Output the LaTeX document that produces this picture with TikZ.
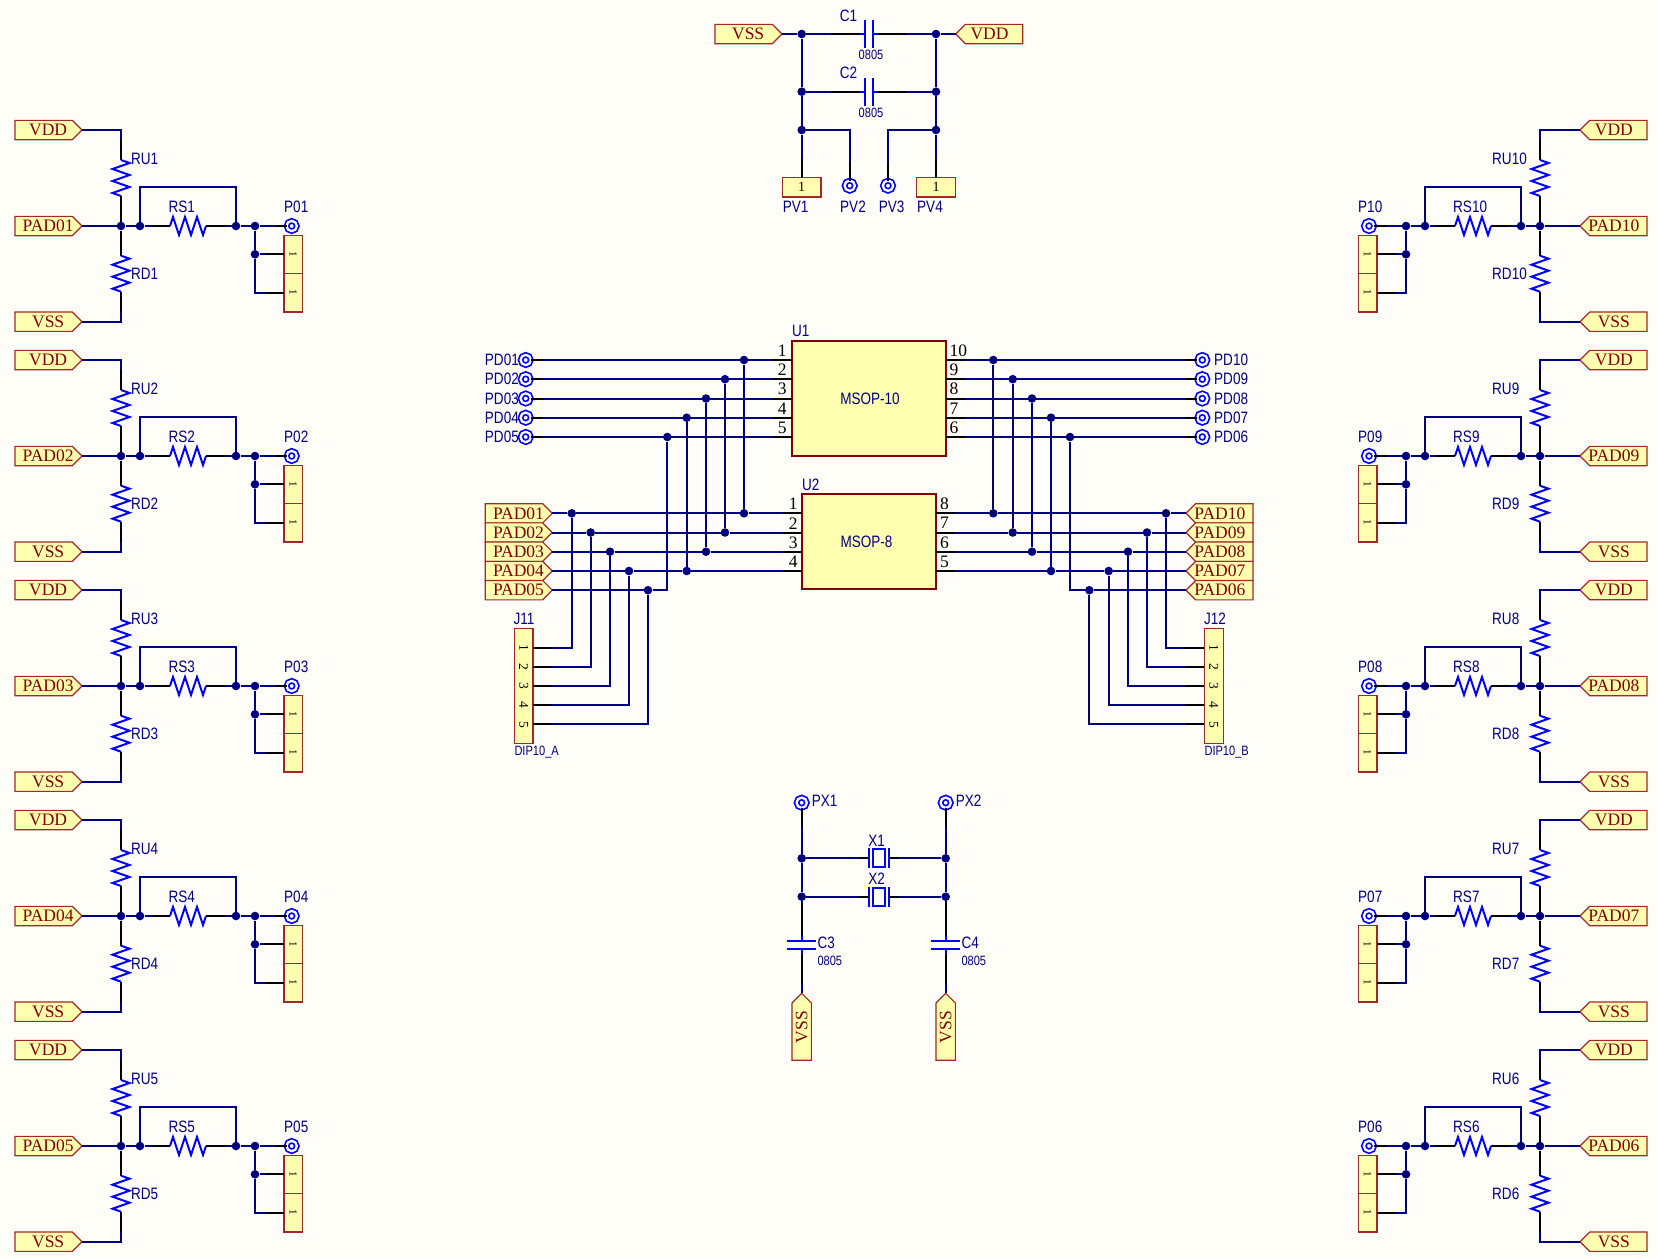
\documentclass[tikz,border=0pt]{standalone}
\usepackage{fontspec}
\setmainfont{Liberation Serif}
\newfontfamily\lblfont[FakeStretch=0.82]{Liberation Sans}
\usetikzlibrary{shapes.symbols}
\definecolor{paper}{HTML}{FFFDF8}
\definecolor{netnavy}{HTML}{000080}
\definecolor{partblue}{HTML}{0000FF}
\definecolor{bodyfill}{HTML}{FFFFB0}
\definecolor{bodyred}{HTML}{800000}
\definecolor{portline}{HTML}{A02828}
\tikzset{
  wire/.style={draw=netnavy, line width=2pt},
  pinline/.style={draw=black, line width=2pt},
  res/.style={draw=partblue, line width=2pt},
  junc/.style={circle, fill=netnavy, inner sep=0pt, minimum size=8.6pt},
  pad/.style={circle, draw=partblue, line width=1.7pt, double=paper, double distance=2.3pt, minimum size=10.3pt, inner sep=0pt, outer sep=0pt},
  port/.style={signal, draw=portline, fill=bodyfill, line width=1.2pt, minimum width=67pt, minimum height=19.3pt,
    inner sep=0pt, outer sep=0pt, text=bodyred, font=\fontsize{17.5}{17.5}\selectfont},
  portr/.style={port, signal to=east, anchor=east, execute at begin node={\hspace{4.5pt}}, execute at end node={\hspace{-4.5pt}}},
  portl/.style={port, signal to=west, anchor=west, execute at begin node={\hspace{-4.5pt}}, execute at end node={\hspace{4.5pt}}},
  part/.style={draw=bodyred, fill=bodyfill, line width=2.2pt, inner sep=0pt, outer sep=0pt},
  conn/.style={draw=portline, fill=bodyfill, line width=1.2pt, minimum width=18.7pt, inner sep=0pt, outer sep=0pt, font=\fontsize{11}{11}\selectfont},
  lbl/.style={inner sep=0pt, text=netnavy, font=\lblfont\fontsize{16.5}{16.5}\selectfont},
  tiny/.style={inner sep=0pt, text=netnavy, font=\lblfont\fontsize{13.5}{13.5}\selectfont},
  pinnum/.style={inner sep=0pt, font=\fontsize{17.5}{17.5}\selectfont},
  connum/.style={inner sep=0pt, font=\fontsize{13.5}{13.5}\selectfont},
  resv/.pic={\draw[res] (0,0) -- (8.5,3) -- (-8.5,9) -- (8.5,15) -- (-8.5,21) -- (8.5,27) -- (-8.5,33) -- (0,36);},
  resh/.pic={\draw[res] (0,0) -- (3,-9) -- (9,9) -- (15,-9) -- (21,9) -- (27,-9) -- (33,9) -- (36,0);},
  caph/.pic={\draw[res] (-4,-14) -- (-4,14) (4,-14) -- (4,14) (-9,0) -- (-4,0) (4,0) -- (9,0);},
  capv/.pic={\draw[res] (-14.3,-4) -- (14.3,-4) (-14.3,4) -- (14.3,4) (0,-9) -- (0,-4) (0,4) -- (0,9);},
  xtal/.pic={\draw[res] (-10,-10) -- (-10,10) (10,-10) -- (10,10) (-6,-9) rectangle (6,9);}
}
\begin{document}
\begin{tikzpicture}[x=1pt, y=-1pt]
    \fill[paper] (0,0) rectangle (1657,1258);

    % left column
    \foreach \n/\m/\off in {1/01/0, 2/02/230, 3/03/460, 4/04/690, 5/05/920} {
    \begin{scope}[shift={(0,\off)}]
        \node[portr] (VDD\n) at (82,130) {VDD};
        \node[portr] (PAD\m) at (82,226) {PAD\m};
        \node[portr] (VSS\n) at (82,321.7) {VSS};
        \node[junc] (JA\n) at (121,226) {};
        \node[junc] (JB\n) at (140,226) {};
        \node[junc] (JC\n) at (236,226) {};
        \node[junc] (JD\n) at (255,226) {};
        \node[junc] (JE\n) at (255,254.3) {};
        \node[pad] (P\m) at (291.7,226) {};
        \node[conn, minimum height=38.4pt] (Q\n a) at (293.3,254.3) {\rotatebox{-90}{1}};
        \node[conn, minimum height=38.4pt] (Q\n b) at (293.3,292.7) {\rotatebox{-90}{1}};
        \coordinate (RU\n a) at (121,160);
        \coordinate (RU\n b) at (121,196);
        \coordinate (RD\n a) at (121,255.7);
        \coordinate (RD\n b) at (121,291.7);
        \coordinate (RS\n a) at (170,226);
        \coordinate (RS\n b) at (206,226);
        \pic at (RU\n a) {resv};
        \pic at (RD\n a) {resv};
        \pic at (RS\n a) {resh};
        \node[lbl, anchor=west] (TU\n) at (131,159) {RU\n};
        \node[lbl, anchor=west] (TD\n) at (131,274) {RD\n};
        \node[lbl, anchor=west] (TS\n) at (168.5,207) {RS\n};
        \node[lbl, anchor=west] (TP\n) at (284,207) {P\m};

        \draw[wire] (VDD\n.east) -| (RU\n a);
        \draw[wire] (VSS\n.east) -| (RD\n b);
        \draw[wire] (PAD\m.east) -- (JA\n) -- (JB\n) -- (RS\n a);
        \draw[wire] (JB\n) -- ++(0,-39) -| (JC\n);
        \draw[wire] (RS\n b) -- (JC\n) -- (JD\n) -- (P\m);
        \draw[wire] (JD\n) -- (JE\n);
        \draw[wire] (JE\n) |- (Q\n b.west);
        \draw[wire] (JE\n) -- (Q\n a.west);
        \draw[pinline] (RU\n a) -- ++(0,-20.5);
        \draw[pinline] (RU\n b) -- (JA\n);
        \draw[pinline] (RD\n a) -- (JA\n);
        \draw[pinline] (RD\n b) -- ++(0,20);
        \draw[pinline] (RS\n a) -- ++(-19.2,0);
        \draw[pinline] (RS\n b) -- ++(19.2,0);
        \draw[pinline] (P\m.west) -- ++(-12,0);
        \draw[pinline] (Q\n a.west) -- ++(-19,0);
        \draw[pinline] (Q\n b.west) -- ++(-19,0);
    \end{scope}
    }

    % right column
    \foreach \n/\m/\off in {10/10/0, 9/09/230, 8/08/460, 7/07/690, 6/06/920} {
    \begin{scope}[shift={(0,\off)}]
        \node[portl] (VDD\n) at (1580,130) {VDD};
        \node[portl] (PAD\m) at (1580,226) {PAD\m};
        \node[portl] (VSS\n) at (1580,321.7) {VSS};
        \node[junc] (JA\n) at (1540,226) {};
        \node[junc] (JB\n) at (1521,226) {};
        \node[junc] (JC\n) at (1425,226) {};
        \node[junc] (JD\n) at (1406,226) {};
        \node[junc] (JE\n) at (1406,254.3) {};
        \node[pad] (P\m) at (1369,226) {};
        \node[conn, minimum height=38.4pt] (Q\n a) at (1367.6,254.3) {\rotatebox{-90}{1}};
        \node[conn, minimum height=38.4pt] (Q\n b) at (1367.6,292.7) {\rotatebox{-90}{1}};
        \coordinate (RU\n a) at (1540,160);
        \coordinate (RU\n b) at (1540,196);
        \coordinate (RD\n a) at (1540,255.7);
        \coordinate (RD\n b) at (1540,291.7);
        \coordinate (RS\n a) at (1455,226);
        \coordinate (RS\n b) at (1491,226);
        \pic at (RU\n a) {resv};
        \pic at (RD\n a) {resv};
        \pic at (RS\n a) {resh};
        \node[lbl, anchor=west] (TU\n) at (1492,159) {RU\n};
        \node[lbl, anchor=west] (TD\n) at (1492,274) {RD\n};
        \node[lbl, anchor=west] (TS\n) at (1453,207) {RS\n};
        \node[lbl, anchor=west] (TP\n) at (1358,207) {P\m};

        \draw[wire] (VDD\n.west) -| (RU\n a);
        \draw[wire] (VSS\n.west) -| (RD\n b);
        \draw[wire] (PAD\m.west) -- (JA\n) -- (JB\n) -- (RS\n b);
        \draw[wire] (JB\n) -- ++(0,-39) -| (JC\n);
        \draw[wire] (RS\n a) -- (JC\n) -- (JD\n) -- (P\m);
        \draw[wire] (JD\n) -- (JE\n);
        \draw[wire] (JE\n) |- (Q\n b.east);
        \draw[wire] (JE\n) -- (Q\n a.east);
        \draw[pinline] (RU\n a) -- ++(0,-20.5);
        \draw[pinline] (RU\n b) -- (JA\n);
        \draw[pinline] (RD\n a) -- (JA\n);
        \draw[pinline] (RD\n b) -- ++(0,20);
        \draw[pinline] (RS\n a) -- ++(-19.2,0);
        \draw[pinline] (RS\n b) -- ++(19.2,0);
        \draw[pinline] (P\m.east) -- ++(12,0);
        \draw[pinline] (Q\n a.east) -- ++(19,0);
        \draw[pinline] (Q\n b.east) -- ++(19,0);
    \end{scope}
    }

    % supply caps on top
    \node[portr] (VSSt) at (782,34) {VSS};
    \node[portl] (VDDt) at (955.7,34) {VDD};
    \node[junc] (TA1) at (801.7,34) {};
    \node[junc] (TA2) at (801.7,91.7) {};
    \node[junc] (TA3) at (801.7,130) {};
    \node[junc] (TB1) at (936,34) {};
    \node[junc] (TB2) at (936,91.7) {};
    \node[junc] (TB3) at (936,130) {};
    \node[conn, font=\fontsize{14}{14}\selectfont, minimum width=38.7pt, minimum height=19.3pt] (PV1) at (801.7,187.3) {1};
    \node[conn, font=\fontsize{14}{14}\selectfont, minimum width=38.7pt, minimum height=19.3pt] (PV4) at (936,187.3) {1};
    \node[pad] (PV2) at (849.7,185.7) {};
    \node[pad] (PV3) at (888,185.7) {};
    \node[lbl] (PV1t) at (795.7,207) {PV1};
    \node[lbl] (PV2t) at (853,207) {PV2};
    \node[lbl] (PV3t) at (891.7,207) {PV3};
    \node[lbl] (PV4t) at (930,207) {PV4};
    \foreach \c/\y in {1/34, 2/91.7} {
        \coordinate (C\c a) at (860,\y);
        \coordinate (C\c b) at (878,\y);
        \pic at (869,\y) {caph};
        \node[lbl] (C\c t) at (848.5,\y-18.5) {C\c};
        \node[tiny] (C\c v) at (871,\y+21) {0805};
        \draw[wire] (TA\c) -- (C\c a);
        \draw[wire] (C\c b) -- (TB\c);
        \draw[pinline] (C\c a) -- ++(-29,0);
        \draw[pinline] (C\c b) -- ++(29,0);
    }
    \draw[wire] (VSSt.east) -- (TA1) -- (TA2) -- (TA3) -- (PV1.north);
    \draw[wire] (VDDt.west) -- (TB1) -- (TB2) -- (TB3) -- (PV4.north);
    \draw[wire] (TA3) -| (PV2);
    \draw[wire] (TB3) -| (PV3);
    \draw[pinline] (PV1.north) -- ++(0,-19);
    \draw[pinline] (PV4.north) -- ++(0,-19);
    \draw[pinline] (PV2.north) -- ++(0,-19);
    \draw[pinline] (PV3.north) -- ++(0,-19);

    % U1 and U2
    \node[part, minimum width=153.7pt, minimum height=115pt] (U1) at (869.2,398.5) {};
    \node[part, minimum width=134.3pt, minimum height=95pt] (U2) at (868.9,541.8) {};
    \node[lbl, anchor=west] (U1t) at (792,331) {U1};
    \node[lbl, anchor=west] (U2t) at (802,485) {U2};
    \node[lbl] (U1v) at (870,399) {MSOP-10};
    \node[lbl] (U2v) at (866.5,542) {MSOP-8};
    \node[conn, minimum height=115pt] (J11) at (523.7,685.8) {};
    \node[conn, minimum height=115pt] (J12) at (1213.8,685.8) {};
    \node[lbl] (J11t) at (524,619) {J11};
    \node[lbl] (J12t) at (1215,619) {J12};
    \node[tiny, anchor=west] (J11v) at (514.3,751.7) {DIP10\_A};
    \node[tiny, anchor=west] (J12v) at (1204.3,751.7) {DIP10\_B};

    % left nets
    \foreach \i/\m/\yu/\yv/\yj/\xu/\xj in {1/01/360/513.3/647.7/744/571.7, 2/02/379.2/532.5/666.8/725/590.7, 3/03/398.5/551.7/686/706/610, 4/04/417.7/571/705.2/686.7/629, 5/05/437/590.2/724.4/667.3/648} {
        \node[pad] (PD\m) at (525.7,\yu) {};
        \node[lbl, anchor=east] (PD\m t) at (519,\yu) {PD\m};
        \node[portr] (PA\m) at (552.3,\yv) {PAD\m};
        \coordinate (UL\i) at (U1.west |- PD\m);
        \coordinate (ZL\i) at (J11.east |- 0,\yj);
        \node[pinnum, anchor=east] (UN\i) at (786.7,\yu-9.3) {\i};
        \node[connum] (JN\i) at (523.7,\yj) {\rotatebox{-90}{\i}};
        \node[junc] (TL\i) at (\xu,\yu) {};
        \node[junc] (JL\i) at (\xj,\yv) {};
        \draw[wire] (PD\m) -- (UL\i);
        \draw[wire] (PA\m.east) -- (JL\i);
        \draw[wire] (JL\i) |- (ZL\i);
        \draw[pinline] (UL\i) -- ++(-19.2,0);
        \draw[pinline] (PD\m.east) -- ++(12,0);
        \draw[pinline] (ZL\i) -- ++(19.2,0);
    }
    \foreach \i/\yv/\xu in {1/513.3/744, 2/532.5/725, 3/551.7/706, 4/571/686.7} {
        \node[junc] (BL\i) at (\xu,\yv) {};
        \coordinate (VL\i) at (U2.west |- BL\i);
        \node[pinnum, anchor=east] (VN\i) at (797.7,\yv-9.3) {\i};
        \draw[wire] (JL\i) -- (BL\i) -- (VL\i);
        \draw[wire] (TL\i) -- (BL\i);
        \draw[pinline] (VL\i) -- ++(-19.2,0);
    }
    \draw[wire] (JL5) -| (TL5);

    % right nets
    \foreach \i/\m/\k/\yu/\yv/\yj/\xu/\xj in {10/10/1/360/513.3/647.7/993.3/1166, 9/09/2/379.2/532.5/666.8/1012.7/1147, 8/08/3/398.5/551.7/686/1032/1128, 7/07/4/417.7/571/705.2/1051/1108.7, 6/06/5/437/590.2/724.4/1070/1089.3} {
        \node[pad] (PD\m) at (1202.3,\yu) {};
        \node[lbl, anchor=west] (PD\m t) at (1214,\yu) {PD\m};
        \node[portl] (PA\m) at (1186,\yv) {PAD\m};
        \coordinate (UR\i) at (U1.east |- PD\m);
        \coordinate (ZR\i) at (J12.west |- 0,\yj);
        \node[pinnum, anchor=west] (UN\i) at (949.5,\yu-9.3) {\i};
        \node[connum] (JM\k) at (1213.8,\yj) {\rotatebox{-90}{\k}};
        \node[junc] (TR\i) at (\xu,\yu) {};
        \node[junc] (JR\i) at (\xj,\yv) {};
        \draw[wire] (PD\m) -- (UR\i);
        \draw[wire] (PA\m.west) -- (JR\i);
        \draw[wire] (JR\i) |- (ZR\i);
        \draw[pinline] (UR\i) -- ++(19.2,0);
        \draw[pinline] (PD\m.west) -- ++(-12,0);
        \draw[pinline] (ZR\i) -- ++(-19.2,0);
    }
    \foreach \i/\n/\yv/\xu in {10/8/513.3/993.3, 9/7/532.5/1012.7, 8/6/551.7/1032, 7/5/571/1051} {
        \node[junc] (BR\i) at (\xu,\yv) {};
        \coordinate (VR\i) at (U2.east |- BR\i);
        \node[pinnum, anchor=west] (VN\n) at (940,\yv-9.3) {\n};
        \draw[wire] (JR\i) -- (BR\i) -- (VR\i);
        \draw[wire] (TR\i) -- (BR\i);
        \draw[pinline] (VR\i) -- ++(19.2,0);
    }
    \draw[wire] (JR6) -| (TR6);

    % crystals and load caps
    \foreach \s/\c/\x/\v in {1/3/801.7/A, 2/4/945.7/B} {
        \node[pad] (PX\s) at (\x,802.7) {};
        \node[lbl, anchor=west] (PX\s t) at (\x+10,801) {PX\s};
        \node[junc] (K\v 1) at (\x,858.3) {};
        \node[junc] (K\v 2) at (\x,896.7) {};
        \coordinate (C\c a) at (\x,935.7);
        \coordinate (C\c b) at (\x,953.7);
        \pic at (\x,944.7) {capv};
        \node[lbl, anchor=west] (C\c t) at (\x+15.6,943.3) {C\c};
        \node[tiny, anchor=west] (C\c v) at (\x+15.6,960.7) {0805};
        \node[portr, rotate=90] (VSSc\c) at (\x,993.3) {VSS};
        \draw[wire] (PX\s) -- (K\v 1) -- (K\v 2) -- (C\c a);
        \draw[wire] (C\c b) -- (VSSc\c.east);
        \draw[pinline] (PX\s.south) -- ++(0,19);
        \draw[pinline] (K\v 2) -- (C\c a);
        \draw[pinline] (C\c b) -- ++(0,30);
    }
    \foreach \x/\y in {1/858.3, 2/896.7} {
        \coordinate (X\x a) at (868.5,\y);
        \coordinate (X\x b) at (888.5,\y);
        \pic at (878.5,\y) {xtal};
        \node[lbl] (X\x t) at (876.7,\y-17.5) {X\x};
        \draw[wire] (KA\x) -- (X\x a);
        \draw[wire] (X\x b) -- (KB\x);
        \draw[pinline] (X\x a) -- ++(-9.2,0);
        \draw[pinline] (X\x b) -- ++(9.2,0);
    }
\end{tikzpicture}
\end{document}
